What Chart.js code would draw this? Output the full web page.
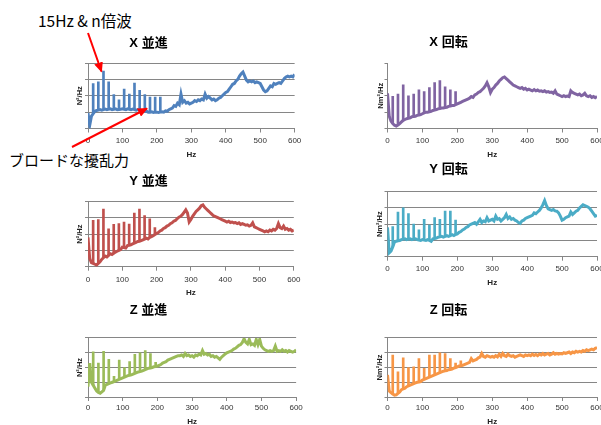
<!DOCTYPE html>
<html><head><meta charset="utf-8">
<script src="https://cdn.jsdelivr.net/npm/chart.js@4"></script>
<style>
html,body{margin:0;padding:0;width:601px;height:425px;overflow:hidden;background:#fff;}
canvas{position:absolute;}
.note{position:absolute;font-family:'Noto Sans CJK JP',sans-serif;color:#000;white-space:nowrap;line-height:1;}
#arrows{position:absolute;left:0;top:0;z-index:5;}
</style></head><body>
<div class="note" style="left:38px;top:13px;font-size:15.5px;">15Hz &amp; n倍波</div>
<div class="note" style="left:9px;top:152px;font-size:15px;">ブロードな擾乱力</div>
<svg id="arrows" width="601" height="425">
<defs><marker id="ah" markerWidth="10" markerHeight="9" refX="9" refY="4.5" orient="auto" markerUnits="userSpaceOnUse"><path d="M0,0 L10,4.5 L0,9 z" fill="#ff0000"/></marker></defs>
<line x1="88" y1="33" x2="101.5" y2="71.5" stroke="#ff0000" stroke-width="2" marker-end="url(#ah)"/>
<line x1="72" y1="147" x2="147" y2="108.5" stroke="#ff0000" stroke-width="2" marker-end="url(#ah)"/>
</svg>
<script>
// frequency axis (Hz)
const freqHz = [0,5,10,15,20,25,30,35,40,45,50,55,60,65,70,75,80,85,90,95,
100,105,110,115,120,125,130,135,140,145,150,155,160,165,170,175,180,185,190,195,
200,205,210,215,220,225,230,235,240,245,250,255,260,265,270,275,280,285,290,295,
300,305,310,315,320,325,330,335,340,345,350,355,360,365,370,375,380,385,390,395,
400,405,410,415,420,425,430,435,440,445,450,455,460,465,470,475,480,485,490,495,
500,505,510,515,520,525,530,535,540,545,550,555,560,565,570,575,580,585,590,595,600];

// broadband spectra (grid units: 0 = axis, 4 = top gridline)
const xTrans = [0.95,0.2,0.75,0.9,1.05,1.1,1.12,1.15,1.12,1.15,
1.18,1.15,1.18,1.2,1.15,1.17,1.2,1.15,1.16,1.18,
1.2,1.17,1.15,1.2,1.17,1.15,1.18,1.15,1.12,1.15,
1.12,1.1,1.08,1.06,1.05,1.0,1.0,1.02,0.98,1.0,
1.0,0.98,1.0,1.02,1.0,1.08,1.05,1.15,1.2,1.25,
1.4,1.35,1.55,1.45,2.1,1.6,1.7,1.55,1.6,1.5,
1.55,1.6,1.7,1.65,1.75,1.7,1.8,1.75,2.1,1.85,
1.95,1.85,1.75,1.8,1.7,1.75,1.85,1.9,2.0,2.1,
2.2,2.25,2.4,2.55,2.7,2.75,2.9,3.0,3.2,3.35,
3.45,3.2,2.95,2.85,2.9,2.85,2.9,2.8,2.85,2.8,
2.75,2.55,2.35,2.25,2.3,2.45,2.6,2.55,2.75,2.7,
2.75,2.8,2.75,2.9,3.05,3.15,3.2,3.15,3.2,3.15,3.3];

const xRot = [2.15,0.75,0.45,0.3,0.2,0.15,0.22,0.3,0.4,0.5,
0.55,0.6,0.62,0.65,0.72,0.74,0.75,0.8,0.82,0.85,
0.9,0.95,1.0,1.0,1.02,1.05,1.1,1.12,1.15,1.2,
1.22,1.25,1.25,1.28,1.3,1.35,1.37,1.4,1.4,1.45,
1.5,1.55,1.6,1.65,1.7,1.75,1.8,1.85,1.95,1.9,
2.05,2.1,2.2,2.25,2.35,2.45,2.6,2.8,2.55,2.2,
2.4,2.5,2.65,2.75,2.9,3.0,3.1,3.15,3.05,2.95,
2.85,2.75,2.65,2.6,2.55,2.5,2.45,2.5,2.4,2.45,
2.35,2.4,2.35,2.3,2.38,2.3,2.35,2.28,2.3,2.25,
2.3,2.22,2.25,2.2,2.22,2.15,2.3,2.1,2.05,2.0,
1.95,2.0,1.95,1.98,1.95,2.3,2.2,2.15,2.1,2.05,
2.1,2.0,2.05,2.15,2.0,1.95,2.0,1.9,1.95,1.88,1.95];

const yTrans = [1.8,0.5,0.25,0.2,0.15,0.1,0.2,0.3,0.45,0.55,
0.65,0.6,0.7,0.8,0.75,0.82,0.9,0.95,1.0,1.05,
1.2,1.18,1.15,1.3,1.32,1.35,1.4,1.45,1.5,1.55,
1.57,1.6,1.65,1.7,1.75,1.7,1.8,1.85,1.9,1.98,
2.05,2.1,2.2,2.25,2.35,2.4,2.5,2.55,2.65,2.7,
2.8,2.85,2.95,3.05,3.1,3.2,3.35,3.5,3.3,2.75,
2.9,3.1,3.25,3.4,3.5,3.6,3.75,3.8,3.65,3.55,
3.45,3.35,3.25,3.15,3.1,3.05,3.0,2.95,2.9,2.85,
2.8,2.75,2.8,2.72,2.75,2.7,2.72,2.65,2.7,2.6,
2.65,2.6,2.55,2.58,2.5,2.55,2.7,2.45,2.4,2.35,
2.3,2.25,2.2,2.15,2.2,2.15,2.25,2.2,2.3,2.25,
2.35,2.65,2.4,2.35,2.5,2.3,2.35,2.25,2.3,2.2,2.25];

const yRot = [1.8,0.25,0.35,0.6,0.9,0.95,0.98,1.0,1.05,1.08,
1.1,1.05,1.08,1.1,1.05,1.08,1.1,1.05,1.02,1.0,
1.05,1.02,1.0,1.05,1.0,0.95,1.1,1.12,1.15,1.2,
1.22,1.25,1.2,1.25,1.3,1.25,1.3,1.35,1.3,1.37,
1.4,1.5,1.55,1.65,1.7,1.8,1.85,1.95,2.0,2.05,
2.1,2.0,2.15,2.3,2.1,2.2,2.15,2.4,2.2,2.25,
2.3,2.2,2.5,2.3,2.35,2.2,2.3,2.4,2.6,2.35,
2.45,2.3,2.35,2.25,2.2,2.1,2.05,2.2,2.25,2.35,
2.4,2.45,2.5,2.55,2.7,2.65,2.75,2.85,3.0,3.2,
3.45,3.15,2.95,2.9,2.85,2.9,2.82,2.8,2.7,2.5,
2.25,2.3,2.4,2.45,2.5,2.75,2.6,2.7,2.8,2.85,
3.0,3.1,3.2,3.15,3.1,3.05,2.95,2.8,2.65,2.5,2.55];

const zTrans = [0.7,2.3,1.0,0.8,0.6,0.4,0.3,0.25,0.35,0.45,
0.8,0.85,0.9,0.95,1.0,1.05,1.1,1.15,1.2,1.25,
1.3,1.35,1.4,1.45,1.47,1.5,1.55,1.6,1.65,1.7,
1.72,1.75,1.8,1.85,1.9,1.95,1.97,2.0,2.05,2.07,
2.1,2.15,2.2,2.3,2.35,2.4,2.5,2.55,2.6,2.65,
2.7,2.75,2.8,2.8,2.85,2.75,2.95,2.8,2.85,2.75,
2.8,2.7,2.85,2.8,2.9,2.85,3.15,2.9,2.95,2.85,
2.9,2.75,2.8,2.7,2.75,2.65,2.55,2.7,2.8,2.9,
3.0,3.05,3.1,3.15,3.25,3.3,3.4,3.5,3.55,3.7,
3.95,3.7,3.6,3.9,3.55,3.6,3.5,3.9,3.55,3.9,
3.45,3.3,3.2,3.15,3.1,3.15,3.1,3.15,3.45,3.1,
3.15,3.1,3.2,3.1,3.15,3.05,3.15,3.1,3.05,3.1,3.2];

const zRot = [1.5,0.4,0.3,0.2,0.12,0.15,0.25,0.35,0.5,0.55,
0.6,0.7,0.75,0.8,0.85,0.9,0.95,1.0,1.02,1.05,
1.15,1.2,1.25,1.3,1.35,1.4,1.45,1.5,1.55,1.6,
1.65,1.7,1.75,1.77,1.8,1.85,1.87,1.9,1.95,2.0,
2.05,2.1,2.12,2.15,2.2,2.25,2.3,2.35,2.6,2.45,
2.5,2.55,2.65,2.7,2.95,2.75,2.7,2.8,2.75,2.7,
2.75,2.7,2.8,2.72,2.9,2.75,2.95,2.8,2.75,2.9,
2.8,2.75,2.8,2.7,2.75,2.8,2.85,2.8,2.75,2.85,
2.8,2.85,2.8,2.9,2.82,2.88,2.8,2.9,2.85,2.95,
2.85,2.9,2.95,2.85,2.9,3.0,2.9,2.95,2.9,2.95,
2.92,3.0,2.95,3.0,3.05,2.95,3.05,3.0,3.1,3.05,
3.1,3.05,3.15,3.1,3.2,3.15,3.2,3.25,3.2,3.3,3.35];

// 15 Hz harmonic peaks (peak level; null = no visible peak)
const harmonicHz = [15,30,45,60,75,90,105,120,135,150,165,180,195,210];
const xTransPeak = [2.75,2.85,3.5,2.85,2.07,1.75,2.4,2.1,2.78,2.33,2.07,1.92,1.92,1.92];
const xRotPeak   = [1.97,2.1,2.67,2.0,2.1,2.36,2.26,2.5,2.8,2.93,2.55,2.36,2.26,null];
const yTransPeak = [2.85,2.9,3.55,2.33,2.6,2.65,2.75,2.62,3.3,3.55,3.15,2.95,2.4,null];
const yRotPeak   = [1.85,2.75,3.0,2.65,2.0,1.65,2.3,1.95,2.4,2.3,2.8,2.8,2.25,null];
const zTransPeak = [3.07,2.3,3.1,2.55,1.4,2.5,2.0,2.4,2.9,3.0,3.15,2.95,2.35,null];
const zRotPeak   = [2.85,1.7,2.65,2.0,2.05,2.6,1.95,2.85,2.85,3.0,2.95,2.6,2.3,2.45];

const panelTitles = ['X 並進','X 回転','Y 並進','Y 回転','Z 並進','Z 回転'];
const yTitles = ['N²/Hz','Nm²/Hz','N²/Hz','Nm²/Hz','N²/Hz','Nm²/Hz'];
const xTitle = 'Hz';
const series = [xTrans, xRot, yTrans, yRot, zTrans, zRot];
const peaks = [xTransPeak, xRotPeak, yTransPeak, yRotPeak, zTransPeak, zRotPeak];
const colors = ['#4F81BD','#8064A2','#C0504D','#4BACC6','#9BBB59','#F79646'];
const showGrid = [true,false,true,true,true,true];

// layout (page pixels)
const layout = [
 {left:0,   top:0,   width:305, areaLeft:88,    areaRight:297, titleY:43,    areaTop:63,    areaBottom:128.5, tickY:141, hzY:155, yTitleX:80},
 {left:300, top:0,   width:313, areaLeft:387.5, areaRight:597, titleY:42,    areaTop:63,    areaBottom:128.5, tickY:141, hzY:155, yTitleX:381},
 {left:0,   top:162, width:305, areaLeft:88,    areaRight:297, titleY:181.7, areaTop:201.7, areaBottom:266.7, tickY:280, hzY:293, yTitleX:80},
 {left:300, top:150, width:313, areaLeft:387.5, areaRight:597, titleY:169,   areaTop:191.7, areaBottom:256.7, tickY:269, hzY:283, yTitleX:380},
 {left:0,   top:290, width:305, areaLeft:88,    areaRight:297, titleY:310.5, areaTop:338,   areaBottom:397,   tickY:408, hzY:422, yTitleX:80},
 {left:300, top:290, width:313, areaLeft:387.5, areaRight:597, titleY:310.5, areaTop:338,   areaBottom:397,   tickY:408, hzY:422, yTitleX:380}
];

const FAM = "'Liberation Sans','Noto Sans CJK JP',sans-serif";
const TITLE_SIZE = 13, TITLE_LH = TITLE_SIZE*1.2;
const TICK_SIZE = 8, TICK_LH = TICK_SIZE*1.2;
const AX_SIZE = 8, YT_SIZE = 7.5;
const TICK_LEN = 4;
const GRAY = '#868686';

layout.forEach((L, i) => {
  const H = Math.round(L.hzY + 8 - L.top);
  const c = document.createElement('canvas');
  c.width = L.width; c.height = H;
  c.style.left = L.left + 'px'; c.style.top = L.top + 'px';
  c.style.width = L.width + 'px'; c.style.height = H + 'px';
  document.body.insertBefore(c, document.getElementById('arrows'));
  const tPadTop = L.titleY - L.top - TITLE_LH/2;
  const tPadBottom = L.areaTop - L.top - tPadTop - TITLE_LH;
  const xH = (L.top + H) - L.areaBottom;
  const yW = L.areaLeft - L.left;
  const padRight = (L.left + L.width) - L.areaRight;
  const base = series[i];
  const peakData = [];
  harmonicHz.forEach((h, k) => {
    const p = peaks[i][k];
    if (p === null) return;
    peakData.push({x: h, y: [base[freqHz.indexOf(h)], p]});
  });
  new Chart(c, {
    type: 'line',
    data: {
      datasets: [{
        type: 'line',
        data: freqHz.map((f, k) => ({x: f, y: base[k]})),
        borderColor: colors[i],
        borderWidth: 3,
        pointRadius: 0,
        tension: 0,
        fill: false,
        order: 1
      }, {
        type: 'bar',
        data: peakData,
        backgroundColor: colors[i],
        borderWidth: 0,
        barThickness: 2,
        grouped: false,
        order: 2
      }]
    },
    options: {
      responsive: false,
      animation: false,
      devicePixelRatio: 1,
      layout: {padding: {left: 0, top: 0, bottom: 0, right: padRight}},
      plugins: {
        legend: {display: false},
        tooltip: {enabled: false},
        title: {
          display: true, text: panelTitles[i], color: '#000',
          font: {family: FAM, size: TITLE_SIZE, weight: 'bold', lineHeight: 1.2},
          padding: {top: tPadTop, bottom: tPadBottom}
        }
      },
      scales: {
        x: {
          type: 'linear', min: 0, max: 600, offset: false,
          ticks: {stepSize: 100, color: '#333', padding: L.tickY - L.areaBottom - TICK_LEN - TICK_LH/2,
                  font: {family: FAM, size: TICK_SIZE, lineHeight: 1.2}, maxRotation: 0, autoSkip: false},
          grid: {drawOnChartArea: false, drawTicks: true, tickLength: TICK_LEN, color: GRAY, offset: false},
          border: {display: true, color: GRAY, width: 1},
          title: {display: true, text: xTitle, color: '#222',
                  font: {family: FAM, size: AX_SIZE, weight: 'bold', lineHeight: 1},
                  padding: {top: 0, bottom: (L.top + H) - L.hzY - AX_SIZE/2}},
          afterFit: s => { s.height = xH; }
        },
        y: {
          min: 0, max: 4,
          ticks: {stepSize: 1, display: false},
          grid: {drawOnChartArea: showGrid[i], drawTicks: true, tickLength: 3, color: GRAY, lineWidth: 1},
          border: {display: true, color: GRAY, width: 1},
          title: {display: true, text: yTitles[i], color: '#222',
                  font: {family: FAM, size: YT_SIZE, weight: 'bold', lineHeight: 1},
                  padding: {top: L.yTitleX - L.left - YT_SIZE/2, bottom: 0}},
          afterFit: s => { s.width = yW; }
        }
      }
    }
  });
});
</script>
</body></html>
